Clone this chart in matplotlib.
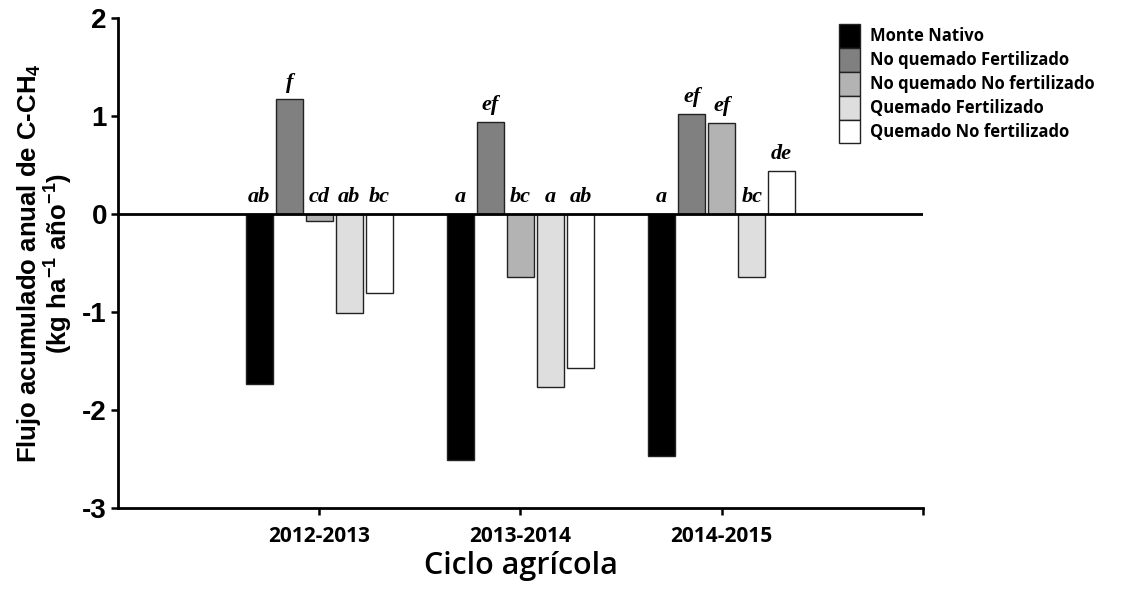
import numpy as np
import matplotlib.pyplot as plt
from matplotlib.patches import Patch

plt.rcParams['mathtext.fontset'] = 'custom'
plt.rcParams['mathtext.rm'] = 'Liberation Sans:bold'
plt.rcParams['mathtext.default'] = 'rm'

# data
ciclos = ['2012-2013', '2013-2014', '2014-2015']
tratamientos = ['Monte Nativo', 'No quemado Fertilizado', 'No quemado No fertilizado',
                'Quemado Fertilizado', 'Quemado No fertilizado']
monte_nativo = [-1.73, -2.51, -2.47]
nq_fert = [1.17, 0.94, 1.02]
nq_nofert = [-0.07, -0.64, 0.93]
q_fert = [-1.01, -1.77, -0.64]
q_nofert = [-0.81, -1.57, 0.44]
letras = [['ab', 'a', 'a'],
          ['f', 'ef', 'ef'],
          ['cd', 'bc', 'ef'],
          ['ab', 'a', 'bc'],
          ['bc', 'ab', 'de']]

colores = ['#000000', '#808080', '#b3b3b3', '#dedede', '#ffffff']
series = [monte_nativo, nq_fert, nq_nofert, q_fert, q_nofert]

fig = plt.figure(figsize=(11.22, 5.91), dpi=100)
ax = fig.add_axes([0.1052, 0.1404, 0.7174, 0.8291])

x = np.arange(1, len(ciclos) + 1)
paso = 0.149
ancho = 0.135
for i, vals in enumerate(series):
    pos = x + (i - 2) * paso
    ax.bar(pos, vals, width=ancho, color=colores[i], edgecolor='#222222',
           linewidth=1.0, zorder=2)
    for j, v in enumerate(vals):
        yl = v + 0.07 if v > 0 else 0.07
        ax.text(pos[j], yl, letras[i][j], ha='center', va='bottom',
                fontsize=16, fontweight='bold', fontstyle='italic',
                family='Liberation Serif')

ax.axhline(0, color='black', linewidth=2, zorder=3)
ax.set_xlim(0, 4)
ax.set_ylim(-3, 2)
ax.set_yticks([-3, -2, -1, 0, 1, 2])
ax.set_yticklabels(['-3', '-2', '-1', '0', '1', '2'], fontsize=20,
                   fontweight='bold', family='Liberation Sans')
ax.set_xticks([1, 2, 3, 4])
ax.set_xticklabels(ciclos + [''], fontsize=15, fontweight='bold',
                   family='Open Sans')
ax.tick_params(axis='both', direction='out', length=5, width=1.8)
ax.tick_params(axis='x', pad=8)
ax.tick_params(axis='y', pad=3)
for s in ['top', 'right']:
    ax.spines[s].set_visible(False)
for s in ['left', 'bottom']:
    ax.spines[s].set_linewidth(2)

ax.set_ylabel('Flujo acumulado anual de C-CH$_4$\n(kg ha$^{-1}$ año$^{-1}$)',
              fontsize=18.5, fontweight='bold', family='Liberation Sans',
              labelpad=5, linespacing=1.0)
ax.set_xlabel('Ciclo agrícola', fontsize=22, fontweight='semibold',
              family='Open Sans', labelpad=3)

handles = [Patch(facecolor=c, edgecolor='#222222', linewidth=1.0) for c in colores]
ax.legend(handles, tratamientos, loc='upper left', bbox_to_anchor=(0.885, 1.005),
          frameon=False, handlelength=1.3, handleheight=1.83, handletextpad=0.6,
          labelspacing=0.0, borderpad=0.0,
          prop={'family': 'Open Sans', 'weight': 'bold', 'size': 12})

fig.savefig('out.png', dpi=100)
